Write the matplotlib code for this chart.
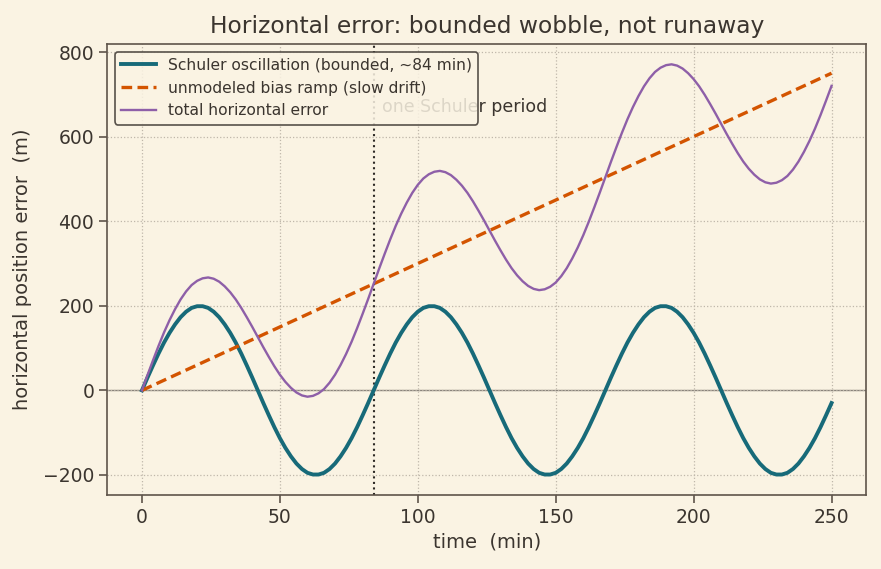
import matplotlib
matplotlib.use("Agg")
import matplotlib.pyplot as plt

# time samples (min), every 2 min from 0 to 250
time_min = list(range(0, 251, 2))

schuler_period = [0, 30, 59, 87, 113, 136, 156, 173, 186, 195, 199, 199, 195, 186, 173,
                  156, 136, 113, 87, 59, 30, 0, -30, -59, -87, -113, -136, -156, -173,
                  -186, -195, -199, -199, -195, -186, -173, -156, -136, -113, -87, -59, -30]
schuler_error = schuler_period * 3

total_error = [0, 36, 71, 105, 137, 166, 192, 215, 234, 249, 259, 265, 267, 264, 257,
               246, 232, 215, 195, 173, 150, 126, 102, 79, 57, 37, 20, 6, -5, -12,
               -15, -13, -7, 3, 18, 37, 60, 86, 115, 147, 181, 216,
               252, 288, 323, 357, 389, 418, 444, 467, 486, 501, 511, 517, 519, 516, 509,
               498, 484, 467, 447, 425, 402, 378, 354, 331, 309, 289, 272, 258, 247, 240,
               237, 239, 245, 255, 270, 289, 312, 338, 367, 399, 433, 468,
               504, 540, 575, 609, 641, 670, 696, 719, 738, 753, 763, 769, 771, 768, 761,
               750, 736, 719, 699, 677, 654, 630, 606, 583, 561, 541, 524, 510, 499, 492,
               489, 491, 497, 507, 522, 541, 564, 590, 619, 651, 685, 720]

ramp_time = [0, 250]
ramp_error = [0, 750]

schuler_marker_t = 84

bg = "#faf3e3"
txt = "#3b352f"
spine = "#5e544a"

plt.rcParams.update({
    "font.family": ["DejaVu Sans"],
    "text.color": txt,
    "axes.labelcolor": txt,
    "xtick.color": spine,
    "ytick.color": spine,
    "xtick.labelcolor": txt,
    "ytick.labelcolor": txt,
})

fig, ax = plt.subplots(figsize=(8.81, 5.69), dpi=100)
fig.patch.set_facecolor(bg)
ax.set_facecolor(bg)

ax.grid(True, linestyle=":", color="#bfb7aa", linewidth=0.9)
ax.axhline(0, color="#8a847c", linewidth=1.0, zorder=1)

ax.plot(time_min, schuler_error, color="#176a79", linewidth=2.8,
        label="Schuler oscillation (bounded, ~84 min)", zorder=3)
ax.plot(ramp_time, ramp_error, color="#d35400", linewidth=2.4, linestyle=(0, (3.2, 1.6)),
        label="unmodeled bias ramp (slow drift)", zorder=3)
ax.plot(time_min, total_error, color="#8e5fa8", linewidth=1.7,
        label="total horizontal error", zorder=3)

ax.axvline(schuler_marker_t, color="#2e2a26", linestyle=":", linewidth=1.5, zorder=2)
ax.text(schuler_marker_t + 3, 670, "one Schuler period", fontsize=12.5, color=txt,
        va="center", ha="left", zorder=1)

ax.set_title("Horizontal error: bounded wobble, not runaway", fontsize=16.8, color=txt, pad=8)
ax.set_xlabel("time  (min)", fontsize=14)
ax.set_ylabel("horizontal position error  (m)", fontsize=14, labelpad=8)
ax.tick_params(labelsize=13.5, length=6, width=1.2)
for s in ax.spines.values():
    s.set_color(spine)
    s.set_linewidth(1.2)

leg = ax.legend(loc="upper left", fontsize=11.2, facecolor=bg, edgecolor="#3b352f",
                framealpha=0.85, fancybox=True, handlelength=2.2)
leg.get_frame().set_linewidth(1.2)
leg.set_zorder(5)

fig.subplots_adjust(left=0.122, right=0.983, top=0.923, bottom=0.13)
fig.savefig("out.png", dpi=100, facecolor=bg)
